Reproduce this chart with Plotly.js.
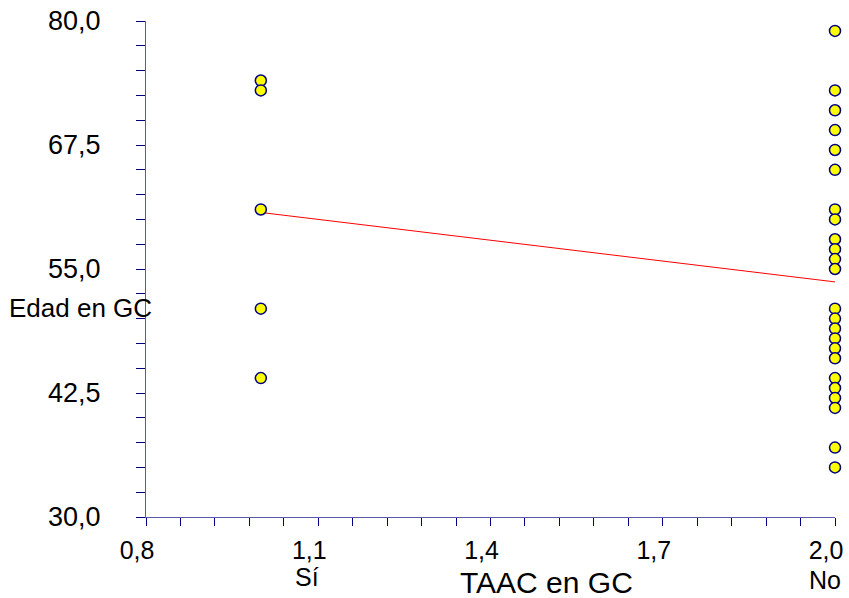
<!DOCTYPE html>
<html>
<head>
<meta charset="utf-8">
<script src="https://cdn.plot.ly/plotly-3.0.1.min.js"></script>
<style>html,body{margin:0;padding:0;background:#fff;}#chart{width:849px;height:598px;}</style>
</head>
<body>
<div id="chart"></div>
<script>
// Group "Sí" (x = 1) and "No" (x = 2)
const xSi = [1, 1, 1, 1, 1];
const edadSi = [74, 73, 61, 51, 44];
const xNo = [2, 2, 2, 2, 2, 2, 2, 2, 2, 2, 2, 2, 2, 2, 2, 2, 2, 2, 2, 2, 2, 2, 2, 2];
const edadNo = [79, 73, 71, 69, 67, 65, 61, 60, 58, 57, 56, 55, 51, 50, 49, 48, 47, 46, 44, 43, 42, 41, 37, 35];
// Fitted line
const fitX = [1, 2];
const fitY = [60.7, 53.7];
const xTitle = "TAAC en GC";
const yTitle = "Edad en GC";
const groupLabels = ["Sí", "No"];

const FONT = "Liberation Sans, Arial, sans-serif";
const marker = {color: "#ffff00", size: 11, line: {color: "#000080", width: 1.5}};

const traces = [
  {x: fitX, y: fitY, type: "scatter", mode: "lines", line: {color: "#ff0000", width: 1}, hoverinfo: "skip"},
  {x: xSi.concat(xNo), y: edadSi.concat(edadNo), type: "scatter", mode: "markers", marker: marker, cliponaxis: false}
];

const layout = {
  width: 849, height: 598,
  margin: {l: 146, r: 14, t: 21, b: 81},
  paper_bgcolor: "#fff", plot_bgcolor: "#fff",
  showlegend: false,
  font: {family: FONT, color: "#000"},
  separators: ",.",
  xaxis: {
    range: [0.8, 2.0], tick0: 0.8, dtick: 0.3, tickformat: ".1f",
    showgrid: false, zeroline: false, showline: true,
    linecolor: "#5a5aa8", linewidth: 1,
    ticks: "outside", ticklen: 8, tickcolor: "#000080", tickwidth: 1,
    minor: {tick0: 0.8, dtick: 0.06, ticks: "outside", ticklen: 8, tickcolor: "#000080", showgrid: false},
    tickfont: {size: 25, family: FONT},
    ticklabelshift: -9, ticklabelstandoff: 3
  },
  yaxis: {
    range: [30, 80], tick0: 30, dtick: 12.5, tickformat: ".1f",
    showgrid: false, zeroline: false, showline: true,
    linecolor: "#5a5aa8", linewidth: 1,
    ticks: "outside", ticklen: 9, tickcolor: "#000080", tickwidth: 1,
    minor: {tick0: 30, dtick: 2.5, ticks: "outside", ticklen: 9, tickcolor: "#000080", showgrid: false},
    tickfont: {size: 27, family: FONT},
    ticklabelstandoff: 30
  },
  annotations: [
    {text: yTitle, xref: "paper", yref: "paper", x: 0, y: 0, xanchor: "left", yanchor: "middle",
     xshift: -139, yshift: 209, showarrow: false, font: {size: 26, family: FONT}},
    {text: xTitle, xref: "paper", yref: "paper", x: 0.5806, y: 0, xanchor: "center", yanchor: "middle",
     yshift: -65, showarrow: false, font: {size: 30, family: FONT}},
    {text: groupLabels[0], xref: "paper", yref: "paper", x: 0.233, y: 0, xanchor: "center", yanchor: "middle",
     yshift: -60, showarrow: false, font: {size: 25, family: FONT}},
    {text: groupLabels[1], xref: "paper", yref: "paper", x: 0.9855, y: 0, xanchor: "center", yanchor: "middle",
     yshift: -63, showarrow: false, font: {size: 25, family: FONT}}
  ]
};

Plotly.newPlot("chart", traces, layout, {displayModeBar: false, staticPlot: true});
</script>
</body>
</html>
